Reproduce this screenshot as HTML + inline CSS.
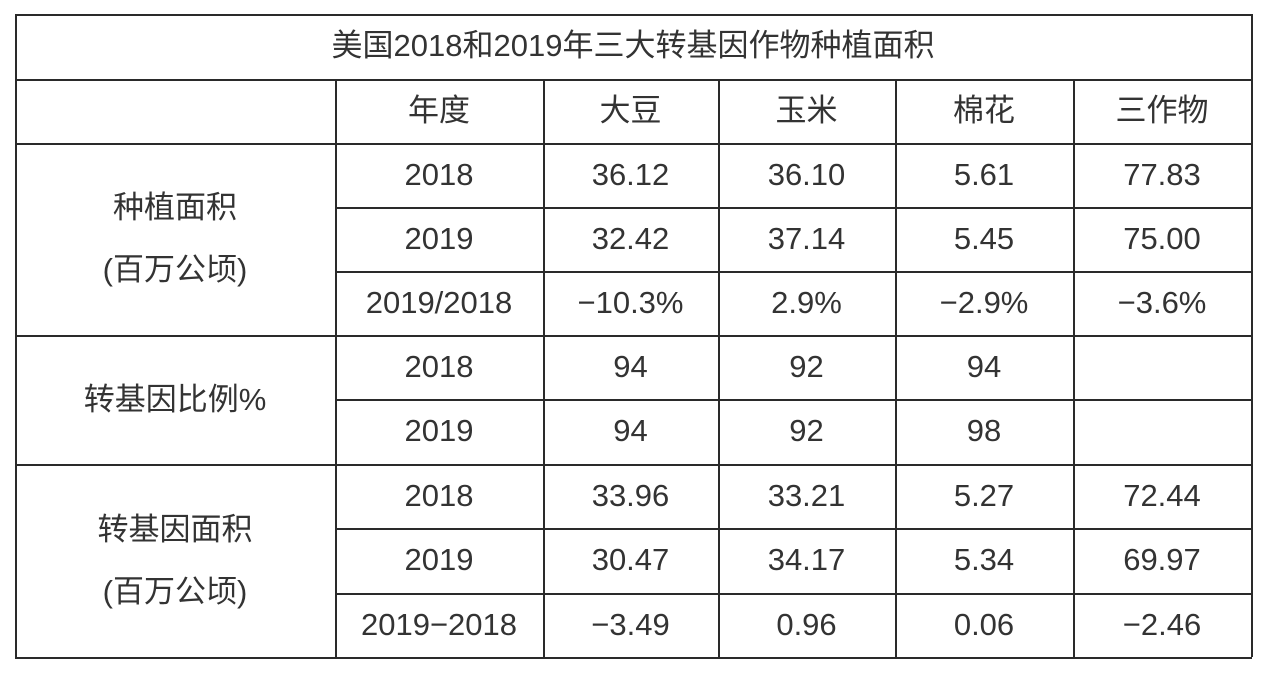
<!DOCTYPE html>
<html><head><meta charset="utf-8">
<style>
body{margin:0;background:#fff;width:1267px;height:675px;overflow:hidden;position:relative;font-family:"Liberation Sans","Noto Sans CJK SC",sans-serif;color:#333}
.l{position:absolute;background:#2a2a2a}
.c{position:absolute;display:flex;align-items:center;justify-content:center;font-size:31px;text-align:center;line-height:1.9}
</style></head><body>
<div id="t"></div>
<script>
const cols=[15,335,543,718,895,1073,1251];
const rows=[14,79,143,207,271,335,399,464,528,593,657];
const headers=['年度','大豆','玉米','棉花','三作物'];
const years=['2018','2019','2019/2018','2018','2019','2018','2019','2019−2018'];
const soy=['36.12','32.42','−10.3%','94','94','33.96','30.47','−3.49'];
const corn=['36.10','37.14','2.9%','92','92','33.21','34.17','0.96'];
const cotton=['5.61','5.45','−2.9%','94','98','5.27','5.34','0.06'];
const total=['77.83','75.00','−3.6%','','','72.44','69.97','−2.46'];
const groups=[{label:'种植面积<br>(百万公顷)',r0:2,r1:5,name:'planted-area-label'},{label:'转基因比例%',r0:5,r1:7,name:'gm-ratio-label'},{label:'转基因面积<br>(百万公顷)',r0:7,r1:10,name:'gm-area-label'}];
const T=document.getElementById('t');
function line(x,y,w,h){const d=document.createElement('div');d.className='l';


d.style.cssText=`left:${x}px;top:${y}px;width:${w}px;height:${h}px`;T.appendChild(d);}
function cell(html,x0,x1,y0,y1,name,fs,lh){const d=document.createElement('div');d.className='c';


d.style.cssText=`left:${x0}px;top:${y0}px;width:${x1-x0}px;height:${y1-y0}px`+(fs?`;font-size:${fs}px`:'')+(lh?`;line-height:${lh}px`:'');d.innerHTML=html;T.appendChild(d);}
line(cols[0],rows[0],cols[6]-cols[0]+1,2);line(cols[0],rows[10],cols[6]-cols[0]+1,2);
line(cols[0],rows[0],2,rows[10]-rows[0]);line(cols[6],rows[0],2,rows[10]-rows[0]);
for(let i=1;i<10;i++){const full=[1,2,5,7].includes(i);const x=full?cols[0]:cols[1];line(x,rows[i],cols[6]-x,2);}
for(let j=1;j<6;j++)line(cols[j],rows[1],2,rows[10]-rows[1]);
cell('美国2018和2019年三大转基因作物种植面积',cols[0],cols[6],rows[0],rows[1],'table-title',31);
headers.forEach((h,j)=>cell(h,cols[j+1],cols[j+2],rows[1],rows[2],'header-'+j));
groups.forEach(g=>cell(g.label,cols[0],cols[1],rows[g.r0],rows[g.r1],g.name,31,62));
const series=[years,soy,corn,cotton,total];
series.forEach((s,j)=>s.forEach((v,i)=>cell(v,cols[j+1],cols[j+2],rows[i+2],rows[i+3],'cell-r'+i+'-c'+j,31)));
</script>
</body></html>
